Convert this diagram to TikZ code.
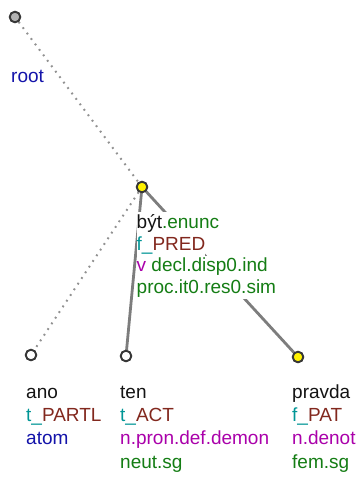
\documentclass[tikz,border=0pt]{standalone}
\usepackage{fontspec}
\setmainfont{Liberation Sans}
\definecolor{cword}{RGB}{20,20,20}
\definecolor{cteal}{RGB}{0,150,150}
\definecolor{cbrown}{RGB}{130,40,30}
\definecolor{cblue}{RGB}{20,20,170}
\definecolor{cpurple}{RGB}{170,0,170}
\definecolor{cgreen}{RGB}{20,125,20}
\definecolor{cedge}{RGB}{125,125,125}
\definecolor{cdot}{RGB}{145,145,145}
\definecolor{cring}{RGB}{55,55,55}
\begin{document}
\begin{tikzpicture}[x=1pt,y=-1pt,
  tnode/.style={circle,draw=cring,line width=1.8pt,minimum size=10.5pt,inner sep=0pt},
  lbl/.style={anchor=base west,inner xsep=0pt,inner ysep=0pt,text height=15.6pt,text depth=6.2pt,fill=white,font=\fontsize{19}{21}\selectfont},
  dotedge/.style={draw=cdot,line width=2pt,dash pattern=on 1.8pt off 5pt},
  solidedge/.style={draw=cedge,line width=2.8pt}]
\useasboundingbox (0,0) rectangle (360,479);
\node[tnode,fill=black!30] (root) at (15,17) {};
\node[tnode,fill=yellow] (byt) at (142,187) {};
\node[tnode,fill=white] (ano) at (31,355) {};
\node[tnode,fill=white] (ten) at (126,356) {};
\node[tnode,fill=yellow] (pravda) at (298,357) {};
\draw[dotedge] (root) -- (byt);
\draw[dotedge] (byt) -- (ano);
\draw[solidedge] (byt) -- (ten);
\draw[solidedge] (byt) -- (pravda);
% redraw circles on top
\node[tnode,fill=black!30] at (root) {};
\node[tnode,fill=yellow] at (byt) {};
\node[tnode,fill=white] at (ano) {};
\node[tnode,fill=white] at (ten) {};
\node[tnode,fill=yellow] at (pravda) {};
% labels
\node[lbl,text=cblue] (lroot) at (11,82) {root};
\node[lbl] (b1) at (136.5,228) {\textcolor{cword}{být}\textcolor{cgreen}{.enunc}};
\node[lbl] (b2) at (136.5,250) {\textcolor{cteal}{f\_}\textcolor{cbrown}{PRED}};
\node[lbl] (b3) at (136.5,271.5) {\textcolor{cpurple}{v} \textcolor{cgreen}{decl.disp0.ind}};
\node[lbl,text=cgreen] (b4) at (136.5,293) {proc.it0.res0.sim};
\node[lbl,text=cword] (a1) at (26,398) {ano};
\node[lbl] (a2) at (26,421) {\textcolor{cteal}{t\_}\textcolor{cbrown}{PARTL}};
\node[lbl,text=cblue] (a3) at (26,444.5) {atom};
\node[lbl,text=cword] (t1) at (120,398) {ten};
\node[lbl] (t2) at (120,421) {\textcolor{cteal}{t\_}\textcolor{cbrown}{ACT}};
\node[lbl,text=cpurple] (t3) at (120,444.5) {n.pron.def.demon};
\node[lbl,text=cgreen] (t4) at (120,468) {neut.sg};
\node[lbl,text=cword] (p1) at (292,398) {pravda};
\node[lbl] (p2) at (292,421) {\textcolor{cteal}{f\_}\textcolor{cbrown}{PAT}};
\node[lbl,text=cpurple] (p3) at (292,444.5) {n.denot};
\node[lbl,text=cgreen] (p4) at (292,468) {fem.sg};
\end{tikzpicture}
\end{document}
